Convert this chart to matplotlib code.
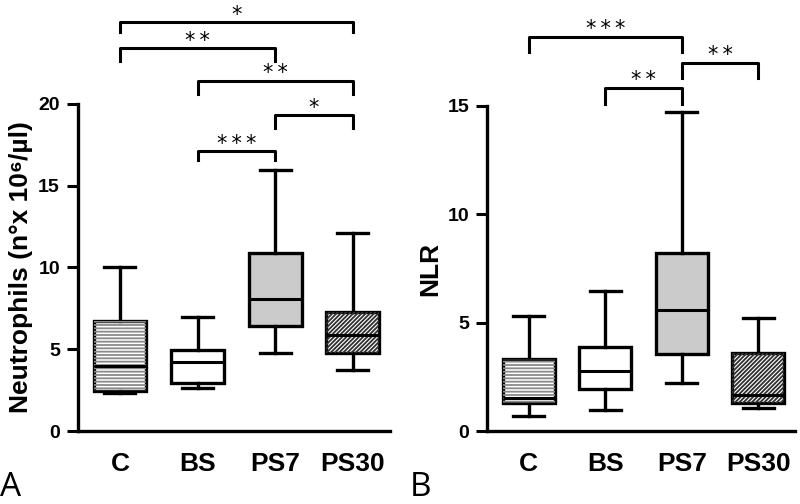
import matplotlib
matplotlib.use("Agg")
import matplotlib.pyplot as plt
from matplotlib.patches import PathPatch

plt.rcParams['font.family'] = ['Liberation Sans', 'DejaVu Sans']
plt.rcParams['font.weight'] = 'bold'
plt.rcParams['hatch.linewidth'] = 1.3

groups = ['C', 'BS', 'PS7', 'PS30']

# neutrophils: whisker low, q1, median, q3, whisker high
neu_low = [2.35, 2.65, 4.75, 3.75]
neu_q1 = [2.45, 2.95, 6.4, 4.8]
neu_med = [3.95, 4.2, 8.05, 5.9]
neu_q3 = [6.75, 4.97, 10.9, 7.25]
neu_high = [10.0, 7.0, 15.95, 12.1]

# NLR
nlr_low = [0.7, 0.95, 2.2, 1.05]
nlr_q1 = [1.29, 1.93, 3.55, 1.3]
nlr_med = [1.52, 2.76, 5.57, 1.66]
nlr_q3 = [3.32, 3.87, 8.2, 3.6]
nlr_high = [5.3, 6.45, 14.7, 5.2]

# significance brackets: (group a, group b, bar height, leg bottom, label)
neu_sig = [(0, 3, 25.0, 24.4, '*'), (0, 2, 23.4, 22.6, '**'),
           (1, 3, 21.4, 20.6, '**'), (2, 3, 19.3, 18.5, '*'),
           (1, 2, 17.1, 16.6, '***')]
nlr_sig = [(0, 2, 18.2, 17.5, '***'), (2, 3, 17.0, 16.3, '**'),
           (1, 2, 15.85, 15.1, '**')]

faces = ['white', 'white', '#cbcbcb', 'white']
hatches = ['-----', None, None, '////////']
hatch_cols = ['#8a8a8a', None, None, '#303030']


def draw(ax, low, q1, med, q3, high, sig, ymax, yticks, ylabel):
    stats = []
    for i in range(len(groups)):
        stats.append(dict(whislo=low[i], q1=q1[i], med=med[i], q3=q3[i],
                          whishi=high[i], fliers=[], label=groups[i]))
    pos = list(range(1, len(groups) + 1))
    bp = ax.bxp(stats, positions=pos, widths=0.68, patch_artist=True,
                showfliers=False,
                boxprops=dict(linewidth=2.4, edgecolor='black'),
                medianprops=dict(color='black', linewidth=2.2),
                whiskerprops=dict(color='black', linewidth=2.4),
                capprops=dict(color='black', linewidth=2.4),
                capwidths=0.4)
    for i, box in enumerate(bp['boxes']):
        box.set_facecolor(faces[i])
        box.set_zorder(2)
        if hatches[i]:
            hp = PathPatch(box.get_path(), facecolor='none',
                           edgecolor=hatch_cols[i], linewidth=0,
                           hatch=hatches[i], zorder=2.5)
            ax.add_patch(hp)
    for m in bp['medians']:
        m.set_zorder(3)

    step = ymax / 20.0
    for a, b, h, leg, lab in sig:
        xa, xb = pos[a], pos[b]
        ax.plot([xa, xa, xb, xb], [leg, h, h, leg], color='black',
                linewidth=2.2, clip_on=False, solid_joinstyle='round')
        ax.text((xa + xb) / 2, h - 0.15 * step, '\u2009'.join(lab),
                ha='center', va='bottom', fontsize=15, fontweight='normal',
                family='DejaVu Sans', clip_on=False)

    ax.set_ylim(0, ymax)
    ax.set_xlim(0.46, 4.48)
    ax.set_yticks(yticks)
    ax.set_xticks(pos)
    ax.set_xticklabels(groups, fontsize=19)
    ax.tick_params(axis='x', length=0, pad=15)
    ax.tick_params(axis='y', length=8, width=2.2, labelsize=14, pad=5)
    for s in ['top', 'right']:
        ax.spines[s].set_visible(False)
    ax.spines['left'].set_linewidth(2.4)
    ax.spines['bottom'].set_linewidth(2.4)
    ax.set_ylabel(ylabel, fontsize=19, fontweight='bold', labelpad=4)


fig = plt.figure(figsize=(8, 5.04), dpi=100)
ax1 = fig.add_axes([0.0975, 0.1448, 0.39, 0.649])
ax2 = fig.add_axes([0.609, 0.1448, 0.385, 0.645])

draw(ax1, neu_low, neu_q1, neu_med, neu_q3, neu_high, neu_sig, 20,
     [0, 5, 10, 15, 20], 'Neutrophils (n°x 10⁶/µl)')
draw(ax2, nlr_low, nlr_q1, nlr_med, nlr_q3, nlr_high, nlr_sig, 15,
     [0, 5, 10, 15], 'NLR')

fig.text(0.0, 0.0, 'A', fontsize=24, fontweight='normal',
         family='Open Sans', ha='left', va='bottom')
fig.text(0.512, 0.0, 'B', fontsize=24, fontweight='normal',
         family='Open Sans', ha='left', va='bottom')

fig.savefig('out.png', dpi=100)
